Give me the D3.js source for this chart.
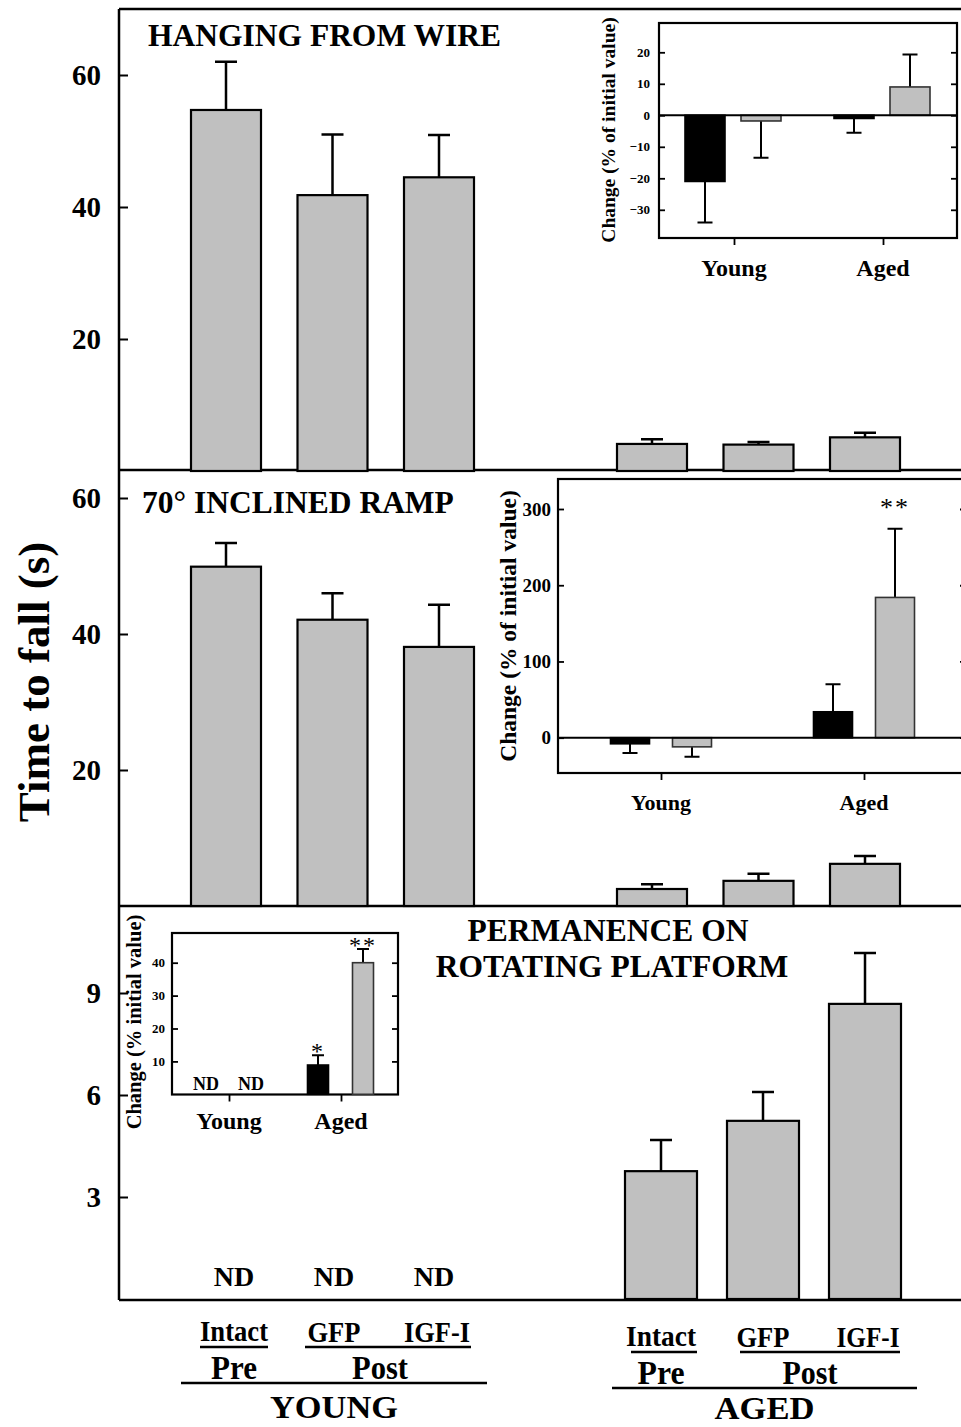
<!DOCTYPE html>
<html>
<head>
<meta charset="utf-8">
<script src="https://cdn.jsdelivr.net/npm/d3@7"></script>
<style>
  body { margin: 0; background: #fff; }
  svg text { font-family: "Liberation Serif", "Times New Roman", serif; font-weight: bold; fill: #000; }
</style>
</head>
<body>
<script>
// groups, in order: Young Intact, GFP, IGF-I, Aged Intact, GFP, IGF-I
const groups = ["Intact", "GFP", "IGF-I"];
const ages = ["Young", "Aged"];

const hangMean = [54.7, 41.8, 44.5, 4.1, 4.0, 5.1];
const hangSem  = [7.3, 9.2, 6.4, 0.7, 0.4, 0.7];
const rampMean = [49.9, 42.1, 38.1, 2.5, 3.7, 6.2];
const rampSem  = [3.5, 3.9, 6.2, 0.7, 1.05, 1.15];
const rotMean  = [null, null, null, 3.76, 5.24, 8.68];
const rotSem   = [null, null, null, 0.92, 0.85, 1.5];

const mainTicks = [20, 40, 60];
const rotTicks = [3, 6, 9];

// insets: % change from initial value, black = GFP, gray = IGF-I (Young, Aged)
const hangChgGfp = [-21, -1];
const hangChgGfpSem = [13, 4.5];
const hangChgIgf = [-1.8, 9];
const hangChgIgfSem = [11.7, 10.3];
const hangChgTicks = [-30, -20, -10, 0, 10, 20];

const rampChgGfp = [-8, 34];
const rampChgGfpSem = [12, 36];
const rampChgIgf = [-12, 184];
const rampChgIgfSem = [13, 90];
const rampChgIgfStars = ["", "**"];
const rampChgTicks = [0, 100, 200, 300];

const rotChgGfp = [null, 8.9];
const rotChgGfpSem = [null, 3];
const rotChgIgf = [null, 40];
const rotChgIgfSem = [null, 4.2];
const rotChgGfpStars = ["", "*"];
const rotChgIgfStars = ["", "**"];
const rotChgTicks = [10, 20, 30, 40];

const W = 961, H = 1427;
const svg = d3.select("body").append("svg")
  .attr("width", W).attr("height", H);

const LEFT = 119, RIGHT = 975;
const GRAY = "#c0c0c0";

function mainPanel(o) {
  const g = svg.append("g");
  const y = d3.scaleLinear().domain(o.domain).range(o.range);
  const xY = d3.scalePoint().domain(groups).range(o.youngX);
  const xA = d3.scalePoint().domain(groups).range(o.agedX);
  const xs = i => i < 3 ? xY(groups[i]) : xA(groups[i - 3]);
  const rows = o.mean.map((m, i) => ({m, s: o.sem[i], cx: xs(i)})).filter(d => d.m != null);

  g.selectAll(".err").data(rows).enter().append("path")
    .attr("d", d => `M${d.cx},${y(d.m)}V${y(d.m + d.s)}M${d.cx - 11},${y(d.m + d.s)}H${d.cx + 11}`)
    .attr("stroke", "#000").attr("stroke-width", 2.5).attr("fill", "none");
  g.selectAll(".bar").data(rows).enter().append("rect")
    .attr("x", d => d.cx - o.barW / 2).attr("width", o.barW)
    .attr("y", d => y(d.m)).attr("height", d => y(0) - y(d.m))
    .attr("fill", GRAY).attr("stroke", "#000").attr("stroke-width", 2.2);

  const ax = g.append("g").attr("transform", `translate(${LEFT},0)`)
    .call(d3.axisLeft(y).tickValues(o.ticks).tickSize(-9).tickPadding(18).tickFormat(d3.format("d")));
  ax.select(".domain").remove();
  ax.selectAll(".tick line").attr("stroke-width", 2);
  ax.selectAll(".tick text").style("font-size", "29px");

  if (o.title) {
    g.append("text").attr("x", o.titleX).attr("y", o.titleY)
      .style("font-size", "31.5px").text(o.title);
  }
  return {y, xY, xA};
}

function inset(o) {
  const g = svg.append("g");
  g.append("rect").attr("x", o.x0).attr("y", o.y0)
    .attr("width", o.x1 - o.x0).attr("height", o.y1 - o.y0)
    .attr("fill", "#fff").attr("stroke", "#000").attr("stroke-width", 2.2);
  const y = d3.scaleLinear().domain(o.domain).range(o.range);
  const x = d3.scalePoint().domain(ages).range(o.catX);

  const ticksL = g.append("g").attr("transform", `translate(${o.x0},0)`)
    .call(d3.axisLeft(y).tickValues(o.ticks).tickSize(-6).tickPadding(o.pad).tickFormat(d3.format("d")));
  ticksL.select(".domain").remove();
  ticksL.selectAll(".tick line").attr("stroke-width", 1.8);
  ticksL.selectAll(".tick text").style("font-size", o.tickFont + "px");
  const ticksR = g.append("g").attr("transform", `translate(${o.x1},0)`)
    .call(d3.axisRight(y).tickValues(o.ticks).tickSize(-6).tickFormat(""));
  ticksR.select(".domain").remove();
  ticksR.selectAll(".tick line").attr("stroke-width", 1.8);

  const bx = g.append("g").attr("transform", `translate(0,${o.y1})`)
    .call(d3.axisBottom(x).tickSize(7).tickFormat(""));
  bx.select(".domain").remove();
  bx.selectAll(".tick line").attr("stroke-width", 1.8);

  ages.forEach(a => {
    g.append("text").attr("x", x(a)).attr("y", o.catY)
      .attr("text-anchor", "middle").style("font-size", o.catFont + "px").text(a);
  });

  const rows = [];
  ages.forEach((a, i) => {
    rows.push({m: o.gfp[i], s: o.gfpSem[i], cx: x(a) + o.offG, fill: "#000", star: o.gfpStars ? o.gfpStars[i] : ""});
    rows.push({m: o.igf[i], s: o.igfSem[i], cx: x(a) + o.offI, fill: GRAY, star: o.igfStars ? o.igfStars[i] : ""});
  });
  const valid = rows.filter(d => d.m != null);
  const end = d => d.m + Math.sign(d.m) * d.s;

  g.selectAll(".err").data(valid).enter().append("path")
    .attr("d", d => `M${d.cx},${y(d.m)}V${y(end(d))}M${d.cx - o.cap / 2},${y(end(d))}H${d.cx + o.cap / 2}`)
    .attr("stroke", "#000").attr("stroke-width", 2).attr("fill", "none");
  g.selectAll(".bar").data(valid).enter().append("rect")
    .attr("x", d => d.cx - o.barW / 2).attr("width", o.barW)
    .attr("y", d => Math.min(y(d.m), y(0))).attr("height", d => Math.abs(y(0) - y(d.m)))
    .attr("fill", d => d.fill).attr("stroke", d => d.fill === GRAY ? "#333" : "#000").attr("stroke-width", 1.6);
  g.selectAll(".star").data(valid.filter(d => d.star)).enter().append("text")
    .attr("x", d => d.cx).attr("y", d => y(end(d)) - o.starOff)
    .attr("text-anchor", "middle").style("font-size", o.starFont + "px")
    .style("letter-spacing", "2px").style("font-weight", "normal").text(d => d.star);

  if (o.zeroLine) {
    g.append("line").attr("x1", o.x0).attr("x2", o.x1).attr("y1", y(0)).attr("y2", y(0))
      .attr("stroke", "#000").attr("stroke-width", 2);
  }
  // ND markers for missing values
  rows.filter(d => d.m == null).forEach(d => {
    g.append("text").attr("x", d.cx).attr("y", y(0) - 4).attr("text-anchor", "middle")
      .style("font-size", "18px").text("ND");
  });

  g.append("text")
    .attr("transform", `translate(${o.labX},${o.labY}) rotate(-90)`)
    .attr("text-anchor", "middle").attr("dy", "0.35em")
    .style("font-size", o.labFont + "px").text(o.label);
}

// frame
const frame = svg.append("g").attr("stroke", "#000").attr("stroke-width", 2.5);
[9, 470, 906, 1300].forEach(yy => {
  frame.append("line").attr("x1", LEFT).attr("x2", RIGHT).attr("y1", yy).attr("y2", yy);
});
frame.append("line").attr("x1", LEFT).attr("x2", LEFT).attr("y1", 9).attr("y2", 1300);

mainPanel({
  mean: hangMean, sem: hangSem, domain: [0, 60], range: [471, 75], ticks: mainTicks,
  youngX: [226, 439], agedX: [652, 865], barW: 70,
  title: "HANGING FROM WIRE", titleX: 148, titleY: 46
});
mainPanel({
  mean: rampMean, sem: rampSem, domain: [0, 60], range: [906, 498], ticks: mainTicks,
  youngX: [226, 439], agedX: [652, 865], barW: 70,
  title: "70° INCLINED RAMP", titleX: 142, titleY: 513
});
const bottom = mainPanel({
  mean: rotMean, sem: rotSem, domain: [0, 9], range: [1299, 993], ticks: rotTicks,
  youngX: [234, 434], agedX: [661, 865], barW: 72
});

// ND labels in the young part of the bottom panel
rotMean.slice(0, 3).forEach((m, i) => {
  if (m == null) {
    svg.append("text").attr("x", bottom.xY(groups[i])).attr("y", 1286)
      .attr("text-anchor", "middle").style("font-size", "28px").text("ND");
  }
});

svg.append("text").attr("x", 608).attr("y", 941).attr("text-anchor", "middle")
  .style("font-size", "31.5px").text("PERMANENCE ON");
svg.append("text").attr("x", 612).attr("y", 977).attr("text-anchor", "middle")
  .style("font-size", "31.5px").text("ROTATING PLATFORM");

inset({
  x0: 659, x1: 957, y0: 23, y1: 238, domain: [-30, 20], range: [209.8, 52.3],
  ticks: hangChgTicks, pad: 9, tickFont: 13, catX: [734, 883], catY: 276, catFont: 24,
  gfp: hangChgGfp, gfpSem: hangChgGfpSem, igf: hangChgIgf, igfSem: hangChgIgfSem,
  offG: -29, offI: 27, barW: 40, cap: 15, zeroLine: true,
  label: "Change (% of initial value)", labX: 608, labY: 130, labFont: 19.5
});
inset({
  x0: 558, x1: 966, y0: 479, y1: 773, domain: [0, 300], range: [737.7, 509],
  ticks: rampChgTicks, pad: 7, tickFont: 19, catX: [661, 864], catY: 810, catFont: 22,
  gfp: rampChgGfp, gfpSem: rampChgGfpSem, igf: rampChgIgf, igfSem: rampChgIgfSem,
  igfStars: rampChgIgfStars, starOff: 13, starFont: 26,
  offG: -31, offI: 31, barW: 39, cap: 15, zeroLine: true,
  label: "Change (% of initial value)", labX: 508, labY: 626, labFont: 23.5
});
inset({
  x0: 172, x1: 398, y0: 933, y1: 1094.5, domain: [0, 40], range: [1094.3, 962.7],
  ticks: rotChgTicks, pad: 7, tickFont: 13, catX: [229, 341], catY: 1129, catFont: 24,
  gfp: rotChgGfp, gfpSem: rotChgGfpSem, igf: rotChgIgf, igfSem: rotChgIgfSem,
  gfpStars: rotChgGfpStars, igfStars: rotChgIgfStars, starOff: -4, starFont: 24,
  offG: -23, offI: 22, barW: 21, cap: 12, zeroLine: false,
  label: "Change (% initial value)", labX: 134, labY: 1022, labFont: 20.5
});

// y axis title
svg.append("text").attr("transform", "translate(33,682) rotate(-90)")
  .attr("text-anchor", "middle").attr("dy", "0.35em")
  .style("font-size", "45px").text("Time to fall (s)");

// group labels below the bottom panel (condensed type, so widths are fixed)
const ageRows = [
  {x: bottom.xY, name: "YOUNG", nameW: 128, nameY: 1418, dy: 0, widths: [68, 53, 66], preW: 46, postW: 56,
   preLine: [181, 487], intactLine: [200, 268], postLine: [305, 471]},
  {x: bottom.xA, name: "AGED", nameW: 100, nameY: 1419, dy: 5, widths: [70, 53, 63], preW: 47, postW: 55,
   preLine: [612, 917], intactLine: [631, 697], postLine: [740, 900]}
];
function label(x, y, size, w, t) {
  svg.append("text").attr("x", x).attr("y", y).attr("text-anchor", "middle")
    .attr("textLength", w).attr("lengthAdjust", "spacingAndGlyphs")
    .style("font-size", size + "px").text(t);
}
ageRows.forEach(r => {
  groups.forEach((gname, i) => {
    label(r.x(gname) + (i === 2 ? 3 : 0), 1341 + r.dy + (i === 0 ? 0 : 1), 30, r.widths[i], gname);
  });
  const lines = [[r.intactLine, 1347], [r.postLine, 1347], [r.preLine, 1383]];
  lines.forEach(([xx, yy]) => {
    svg.append("line").attr("x1", xx[0]).attr("x2", xx[1])
      .attr("y1", yy + r.dy).attr("y2", yy + r.dy)
      .attr("stroke", "#000").attr("stroke-width", 2.5);
  });
  label(r.x("Intact"), 1379 + r.dy, 33, r.preW, "Pre");
  label((r.x("GFP") + r.x("IGF-I")) / 2 - 4, 1379 + r.dy, 33, r.postW, "Post");
  label((r.preLine[0] + r.preLine[1]) / 2, r.nameY, 32, r.nameW, r.name);
});
</script>
</body>
</html>
